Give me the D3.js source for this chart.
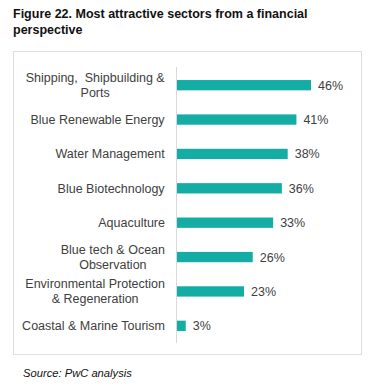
<!DOCTYPE html>
<meta charset="utf-8">
<style>
body { margin: 0; background: #fff; }
.title { font-family: "Liberation Sans", Arial, sans-serif; font-weight: bold; font-size: 12.5px; fill: #111; }
.label { font-family: "Liberation Sans", Arial, sans-serif; font-size: 12.5px; fill: #404040; }
.value { font-family: "Liberation Sans", Arial, sans-serif; font-size: 12.5px; fill: #404040; }
.source { font-family: "Liberation Sans", Arial, sans-serif; font-style: italic; font-size: 11.2px; fill: #111; }
.bar { fill: #14ada6; }
</style>
<svg width="372" height="391"></svg>
<script src="https://cdn.jsdelivr.net/npm/d3@7"></script>
<script>

var sectors = [
  ["Shipping,\u00a0 Shipbuilding &", "Ports"],
  ["Blue Renewable Energy"],
  ["Water Management"],
  ["Blue Biotechnology"],
  ["Aquaculture"],
  ["Blue tech & Ocean", "Observation"],
  ["Environmental Protection", "& Regeneration"],
  ["Coastal & Marine Tourism"]
];
var values = [46, 41, 38, 36, 33, 26, 23, 3];

var svg = d3.select("svg");

// title
svg.append("text").attr("class", "title").attr("x", 13).attr("y", 18)
  .text("Figure 22. Most attractive sectors from a financial");
svg.append("text").attr("class", "title").attr("x", 13).attr("y", 34)
  .text("perspective");

// frame
svg.append("rect")
  .attr("x", 13.5).attr("y", 51.5)
  .attr("width", 348).attr("height", 303)
  .attr("fill", "none").attr("stroke", "#ddd");

var x = d3.scaleLinear().domain([0, 46]).range([177, 311]);
var y = d3.scaleBand()
  .domain(d3.range(values.length))
  .range([68, 343])
  .paddingInner(0.7).paddingOuter(0.35);

// axis line
svg.append("line")
  .attr("x1", 176.5).attr("x2", 176.5)
  .attr("y1", 67).attr("y2", 343)
  .attr("stroke", "#d9d9d9");

svg.append("g").selectAll("rect")
  .data(values)
  .enter().append("rect")
    .attr("class", "bar")
    .attr("x", x(0))
    .attr("y", function(d, i) { return y(i); })
    .attr("width", function(d) { return x(d) - x(0); })
    .attr("height", y.bandwidth());

svg.append("g").selectAll("text")
  .data(values)
  .enter().append("text")
    .attr("class", "value")
    .attr("x", function(d) { return x(d) + 7; })
    .attr("y", function(d, i) { return y(i) + y.bandwidth() / 2 + 4.5; })
    .text(function(d) { return d + "%"; });

var labels = svg.append("g").selectAll("text")
  .data(sectors)
  .enter().append("text")
    .attr("class", "label")
    .attr("text-anchor", "middle")
    .attr("y", function(d, i) {
      var c = y(i) + y.bandwidth() / 2 + 4.5;
      return d.length > 1 ? c - 7.5 : c;
    });

labels.each(function(d) {
  var t = d3.select(this);
  d.forEach(function(line, j) {
    t.append("tspan").attr("x", 0).attr("dy", j ? 15 : 0).text(line);
  });
  // right-align the block, center lines within it
  var w = this.getBBox().width;
  t.attr("transform", "translate(" + (165 - w / 2) + ",0)");
});

svg.append("text").attr("class", "source").attr("x", 23).attr("y", 377)
  .text("Source: PwC analysis");

</script>
